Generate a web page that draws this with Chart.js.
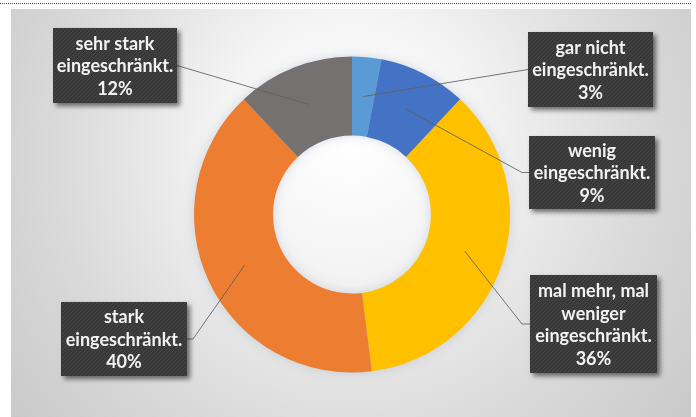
<!DOCTYPE html>
<html lang="de">
<head>
<meta charset="utf-8">
<title>Einschränkung</title>
<script src="https://cdn.jsdelivr.net/npm/chart.js@4.4.1/dist/chart.umd.min.js"></script>
<style>
  html, body { margin: 0; padding: 0; background: #ffffff; }
  #wrap { width: 696px; height: 417px; }
  canvas { display: block; }
</style>
</head>
<body>
<div id="wrap"><canvas id="chart" width="696" height="417"></canvas></div>
<script>
// Kategorien und Anteile (in %)
const categories = [
  'gar nicht eingeschränkt.',
  'wenig eingeschränkt.',
  'mal mehr, mal weniger eingeschränkt.',
  'stark eingeschränkt.',
  'sehr stark eingeschränkt.'
];
const shares = [3, 9, 36, 40, 12];
// Zeilenumbrüche der Beschriftungen
const labelLines = [
  ['gar nicht', 'eingeschränkt.'],
  ['wenig', 'eingeschränkt.'],
  ['mal mehr, mal', 'weniger', 'eingeschränkt.'],
  ['stark', 'eingeschränkt.'],
  ['sehr stark', 'eingeschränkt.']
];
const sliceColors = ['#5B9BD5', '#4472C4', '#FFC000', '#ED7D31', '#767171'];

// Lage der Beschriftungskästen (x, y, Breite, Höhe, Seite der Führungslinie, Knicklänge)
const calloutBoxes = [
  { x: 528, y: 32,  w: 125, h: 75, side: 'left',  elbow: 0 },
  { x: 529, y: 136, w: 126, h: 73, side: 'left',  elbow: 7 },
  { x: 530, y: 275, w: 127, h: 98, side: 'left',  elbow: 8 },
  { x: 61,  y: 302, w: 126, h: 74, side: 'right', elbow: 6 },
  { x: 53,  y: 28,  w: 124, h: 75, side: 'right', elbow: 0 }
];

// Hintergrundfläche mit Verlauf und gepunkteter Linie oben
const backgroundPanel = {
  id: 'backgroundPanel',
  beforeDraw(chart) {
    const ctx = chart.ctx;
    ctx.save();
    ctx.fillStyle = '#ffffff';
    ctx.fillRect(0, 0, chart.width, chart.height);
    const g = ctx.createRadialGradient(350, 130, 10, 350, 170, 480);
    g.addColorStop(0, '#ffffff');
    g.addColorStop(0.25, '#f4f4f4');
    g.addColorStop(0.6, '#dadada');
    g.addColorStop(1, '#c2c2c2');
    ctx.fillStyle = g;
    ctx.fillRect(11, 9, 680, chart.height - 9);
    ctx.strokeStyle = '#4a4a4a';
    ctx.lineWidth = 1;
    ctx.setLineDash([1, 1]);
    ctx.beginPath();
    ctx.moveTo(0, 3.5);
    ctx.lineTo(691, 3.5);
    ctx.stroke();
    ctx.restore();
  }
};

// weicher Schein um den Ring
const ringGlow = {
  id: 'ringGlow',
  beforeDatasetsDraw(chart) {
    const arc = chart.getDatasetMeta(0).data[0];
    if (!arc) return;
    const { x, y, outerRadius, innerRadius } = arc.getProps(['x', 'y', 'outerRadius', 'innerRadius'], true);
    const ctx = chart.ctx;
    ctx.save();
    ctx.shadowColor = 'rgba(120,140,170,0.35)';
    ctx.shadowBlur = 12;
    ctx.fillStyle = '#b0bac6';
    ctx.beginPath();
    ctx.arc(x, y, outerRadius - 1, 0, Math.PI * 2);
    ctx.arc(x, y, innerRadius + 1, 0, Math.PI * 2, true);
    ctx.fill();
    ctx.restore();
  }
};

function stripePattern(ctx) {
  const c = document.createElement('canvas');
  c.width = 4; c.height = 4;
  const p = c.getContext('2d');
  p.fillStyle = '#383838';
  p.fillRect(0, 0, 4, 4);
  p.strokeStyle = 'rgba(255,255,255,0.07)';
  p.lineWidth = 1;
  p.beginPath();
  p.moveTo(0, 4); p.lineTo(4, 0);
  p.stroke();
  return ctx.createPattern(c, 'repeat');
}

// Führungslinien und dunkle Beschriftungskästen
const callouts = {
  id: 'callouts',
  afterDatasetsDraw(chart) {
    const ctx = chart.ctx;
    const meta = chart.getDatasetMeta(0);
    const pattern = stripePattern(ctx);
    ctx.save();
    meta.data.forEach((arc, i) => {
      const box = calloutBoxes[i];
      const p = arc.getProps(['x', 'y', 'startAngle', 'endAngle', 'innerRadius', 'outerRadius'], true);
      const mid = (p.startAngle + p.endAngle) / 2;
      const r = (p.innerRadius + p.outerRadius) / 2;
      const ax = p.x + Math.cos(mid) * r;
      const ay = p.y + Math.sin(mid) * r;
      const ey = box.y + box.h / 2;
      const ex = box.side === 'left' ? box.x : box.x + box.w;
      const kx = box.side === 'left' ? ex - box.elbow : ex + box.elbow;
      ctx.strokeStyle = 'rgba(95,95,95,0.85)';
      ctx.lineWidth = 1;
      ctx.setLineDash([]);
      ctx.beginPath();
      ctx.moveTo(ax, ay);
      ctx.lineTo(kx, ey);
      ctx.lineTo(ex, ey);
      ctx.stroke();
    });
    meta.data.forEach((arc, i) => {
      const box = calloutBoxes[i];
      ctx.save();
      ctx.shadowColor = 'rgba(0,0,0,0.55)';
      ctx.shadowBlur = 5;
      ctx.shadowOffsetX = 3;
      ctx.shadowOffsetY = 3;
      ctx.fillStyle = pattern;
      ctx.fillRect(box.x, box.y, box.w, box.h);
      ctx.restore();
      const lines = labelLines[i].concat([shares[i] + '%']);
      const lh = 22.5;
      const cx = box.x + box.w / 2;
      const top = box.y + box.h / 2 - (lines.length * lh) / 2 + lh / 2 + 1;
      ctx.fillStyle = '#f2f2f2';
      ctx.font = 'bold 18px Lato, "Open Sans", sans-serif';
      ctx.textAlign = 'center';
      ctx.textBaseline = 'middle';
      lines.forEach((t, k) => ctx.fillText(t, cx, top + k * lh));
    });
    ctx.restore();
  }
};

new Chart(document.getElementById('chart'), {
  type: 'doughnut',
  data: {
    labels: categories,
    datasets: [{
      data: shares,
      backgroundColor: sliceColors,
      borderWidth: 0,
      hoverOffset: 0,
      offset: 0
    }]
  },
  options: {
    responsive: false,
    animation: false,
    events: [],
    cutout: '50%',
    layout: { padding: { left: 194, right: 186, top: 56, bottom: 44 } },
    plugins: {
      legend: { display: false },
      tooltip: { enabled: false }
    }
  },
  plugins: [backgroundPanel, ringGlow, callouts]
});
</script>
</body>
</html>
